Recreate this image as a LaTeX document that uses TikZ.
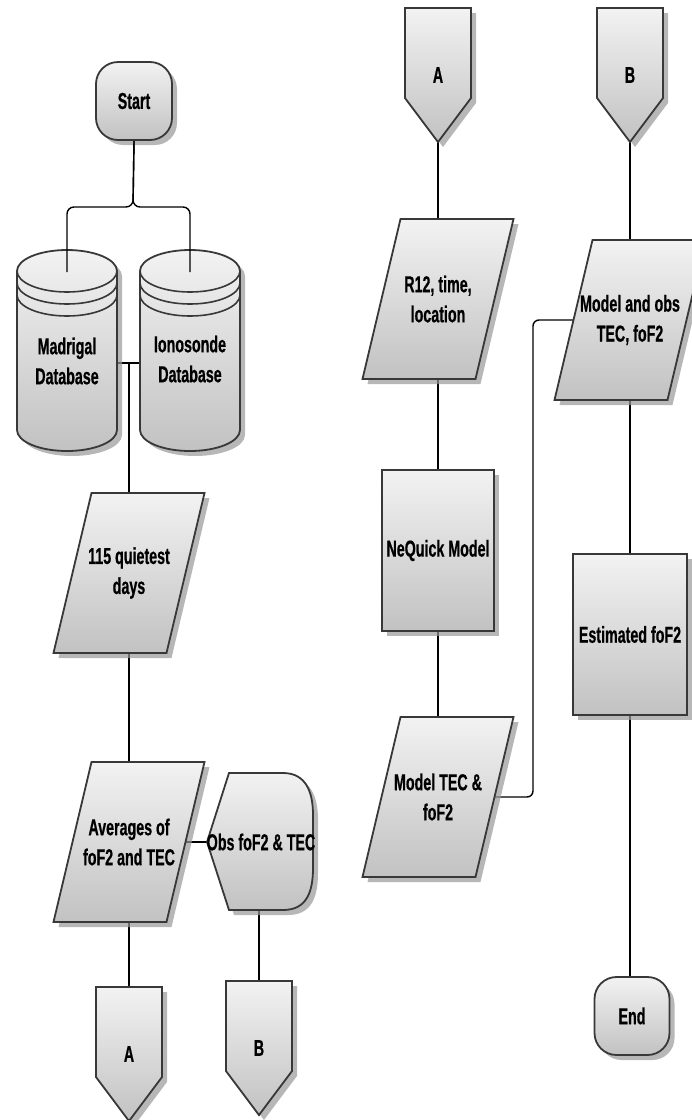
\documentclass[tikz,border=0pt]{standalone}
\usepackage{fontspec}
\setmainfont{Liberation Sans}[FakeStretch=0.62, BoldFeatures={FakeBold=0.6}]
\usetikzlibrary{calc,shadows}
\pgfdeclarelayer{linelayer}
\pgfdeclarelayer{shapelayer}
\pgfsetlayers{linelayer,shapelayer,main}
\tikzset{
  lbl/.style={font=\bfseries\fontsize{23}{30}\selectfont, align=center, inner sep=0pt, text=black},
  shp/.style={draw=black!78, line width=1.8pt, top color=black!5, bottom color=black!24,
     drop shadow={shadow xshift=5pt, shadow yshift=-5pt, fill=black!40, opacity=0.7}},
  edge/.style={draw=black!78, line width=1.6pt},
  conn/.style={draw=black, line width=1.4pt},
  term/.style={lbl, shp, rounded corners=22pt, minimum width=76pt, minimum height=78pt},
  proc/.style={lbl, shp, minimum height=161pt},
}
\begin{document}
\begin{tikzpicture}[x=1pt,y=-1pt]
\useasboundingbox (0,0) rectangle (692,1120);
% nodes
\node[term] (start) at (134,101) {Start};
\node[lbl] (mad) at (67,361) {Madrigal\\Database};
\node[lbl] (ion) at (190,359) {Ionosonde\\Database};
\coordinate (madtop) at (67,272);
\coordinate (iontop) at (190,272);
\coordinate (brc) at (133,207);
\coordinate (jn) at (129,363);
\node[lbl] (quiet) at (129,573) {115 quietest\\days};
\node[lbl] (avg) at (129,842) {Averages of\\foF2 and TEC};
\node[lbl] (obs) at (261,842) {Obs foF2 \& TEC};
\node[lbl] (Ab) at (129,1054) {A};
\node[lbl] (Bb) at (259,1048) {B};
\node[lbl] (At) at (438,75) {A};
\node[lbl] (Bt) at (630,75) {B};
\node[lbl] (r12) at (438,299) {R12, time,\\location};
\node[proc, minimum width=112pt] (neq) at (438,550.5) {NeQuick Model};
\node[lbl] (mtec) at (438,797) {Model TEC \&\\foF2};
\node[lbl] (mobs) at (630,320) {Model and obs\\TEC, foF2};
\node[proc, minimum width=114pt] (est) at (630,634.5) {Estimated foF2};
\node[term, minimum width=75pt] (end) at (632,1016) {End};
\coordinate (bend) at (533,320);

\begin{pgfonlayer}{shapelayer}
  % cylinders
  \foreach \cx in {67,190} {
    \path[shp] (\cx-50,271) -- (\cx-50,430)
      arc[start angle=180,end angle=360,x radius=50pt,y radius=21pt]
      -- (\cx+50,271)
      arc[start angle=0,end angle=180,x radius=50pt,y radius=21pt] -- cycle;
    \foreach \yy in {271,283,295}
      \draw[edge] (\cx-50,\yy) arc[start angle=180,end angle=360,x radius=50pt,y radius=21pt];
  }
  % parallelograms
  \foreach \n in {quiet,avg,r12,mtec,mobs}
    \path[shp] ($(\n.center)+(-75.5,80)$) -- ++(113,0) -- ++(38,-160) -- ++(-113,0) -- cycle;
  % off-page connectors
  \foreach \n in {Ab,Bb,At,Bt}
    \path[shp] ($(\n.center)+(-33,-67)$) -- ++(66,0) -- ++(0,90) -- ++(-33,44) -- ++(-33,-44) -- cycle;
  % display shape
  \path[shp] (207,842) -- (229,773) -- (283,773)
     .. controls (306,773) and (313,792) .. (313,815) -- (313,868)
     .. controls (313,893) and (306,910) .. (283,910) -- (229,910) -- cycle;
\end{pgfonlayer}

\begin{pgfonlayer}{linelayer}
  \draw[conn] (jn -| mad) -- (jn -| ion);
  \draw[conn] (jn) -- (quiet);
  \draw[conn] (quiet) -- (avg);
  \draw[conn] (avg) -- (obs);
  \draw[conn] (avg) -- (Ab);
  \draw[conn] (obs -| Bb) -- (Bb);
  \draw[conn] (At) -- (r12);
  \draw[conn] (r12) -- (neq);
  \draw[conn] (neq) -- (mtec);
  \draw[conn, rounded corners=6pt] (mtec) -| (bend) -- (mobs);
  \draw[conn] (Bt) -- (mobs);
  \draw[conn] (mobs) -- (est);
  \draw[conn] (est) -- (est |- end);
\end{pgfonlayer}

\draw[conn, rounded corners=7pt] (start.south) -- (brc) -| (madtop);
\draw[conn, rounded corners=7pt] (start.south) -- (brc) -| (iontop);
\end{tikzpicture}
\end{document}
